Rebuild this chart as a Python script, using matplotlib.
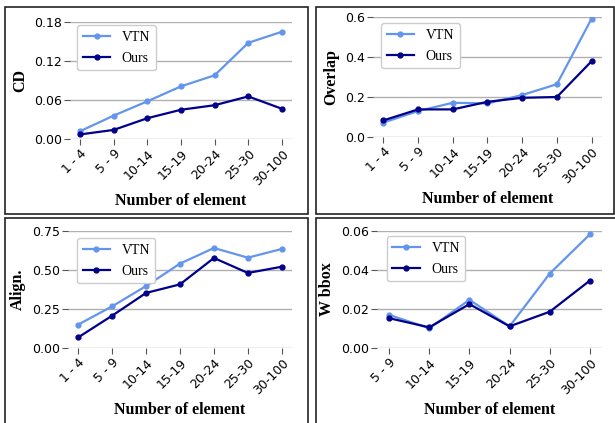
import numpy as np
import matplotlib.pyplot as plt
from matplotlib.patches import Rectangle

cats7 = ['1 - 4', '5 - 9', '10-14', '15-19', '20-24', '25-30', '30-100']
cats6 = ['5 - 9', '10-14', '15-19', '20-24', '25-30', '30-100']

cd_vtn = [0.012, 0.036, 0.058, 0.081, 0.098, 0.148, 0.165]
cd_ours = [0.007, 0.014, 0.032, 0.045, 0.052, 0.0655, 0.0465]

ov_vtn = [0.072, 0.130, 0.171, 0.168, 0.210, 0.264, 0.592]
ov_ours = [0.083, 0.138, 0.138, 0.176, 0.196, 0.200, 0.379]

al_vtn = [0.150, 0.267, 0.397, 0.541, 0.641, 0.579, 0.635]
al_ours = [0.068, 0.207, 0.353, 0.408, 0.577, 0.481, 0.521]

wb_vtn = [0.0170, 0.0101, 0.0247, 0.0111, 0.0382, 0.0583]
wb_ours = [0.0153, 0.0106, 0.0225, 0.0111, 0.0186, 0.0346]

W, H = 615, 423
fig = plt.figure(figsize=(W / 100, H / 100), dpi=100)

serif = 'Liberation Serif'


def px_axes(l, t, r, b):
    # axes from pixel box (left, top, right, bottom)
    return fig.add_axes([l / W, 1 - b / H, (r - l) / W, (b - t) / H])


def panel(ax, cats, vtn, ours, ylabel, yticks, fmt, legpos):
    x = np.arange(len(cats))
    ax.plot(x, vtn, color='#6495ED', lw=1.6, marker='o', ms=3.5, label='VTN')
    ax.plot(x, ours, color='#00008B', lw=1.6, marker='o', ms=3.5, label='Ours')
    ax.set_xlim(-0.3, len(cats) - 0.7)
    ax.set_ylim(yticks[0], yticks[-1])
    ax.set_yticks(yticks)
    ax.set_yticklabels([fmt % v for v in yticks], fontsize=9)
    ax.set_xticks(x)
    ax.set_xticklabels(cats, rotation=45, fontsize=9, ha='right',
                       rotation_mode='anchor')
    for s in ax.spines.values():
        s.set_visible(False)
    ax.grid(axis='y', color='#b0b0b0', lw=1)
    ax.set_axisbelow(True)
    ax.tick_params(length=4, color='#555555', pad=2)
    ax.set_ylabel(ylabel, fontfamily=serif, fontweight='bold', fontsize=11.5)
    ax.set_xlabel('Number of element', fontfamily=serif, fontweight='bold',
                  fontsize=11.5)
    ax.legend(loc='upper left', bbox_to_anchor=legpos, borderaxespad=0,
              prop={'family': serif, 'size': 10}, handlelength=2,
              labelspacing=0.6, framealpha=1, edgecolor='#cccccc',
              fancybox=True)
    return ax


a1 = px_axes(70, 22, 292, 139)
panel(a1, cats7, cd_vtn, cd_ours, 'CD', [0.0, 0.06, 0.12, 0.18], '%.2f',
      (0.032, 0.974))
a2 = px_axes(373, 17, 602, 137)
panel(a2, cats7, ov_vtn, ov_ours, 'Overlap', [0.0, 0.2, 0.4, 0.6], '%.1f',
      (0.035, 0.95))
a3 = px_axes(68, 231, 292, 348)
panel(a3, cats7, al_vtn, al_ours, 'Align.', [0.0, 0.25, 0.5, 0.75], '%.2f',
      (0.04, 0.94))
a4 = px_axes(377, 231, 602, 348)
panel(a4, cats6, wb_vtn, wb_ours, 'W bbox', [0.0, 0.02, 0.04, 0.06], '%.2f',
      (0.044, 0.957))

# frames around each panel
for (l, t, r, b) in [(5, 7, 308, 214), (316, 7, 614, 214),
                     (5, 218, 308, 426), (316, 218, 618, 426)]:
    fig.add_artist(Rectangle((l / W, 1 - b / H), (r - l) / W, (b - t) / H,
                             transform=fig.transFigure, fill=False,
                             edgecolor='#222222', lw=1.2))

fig.savefig('out.png', dpi=100)
